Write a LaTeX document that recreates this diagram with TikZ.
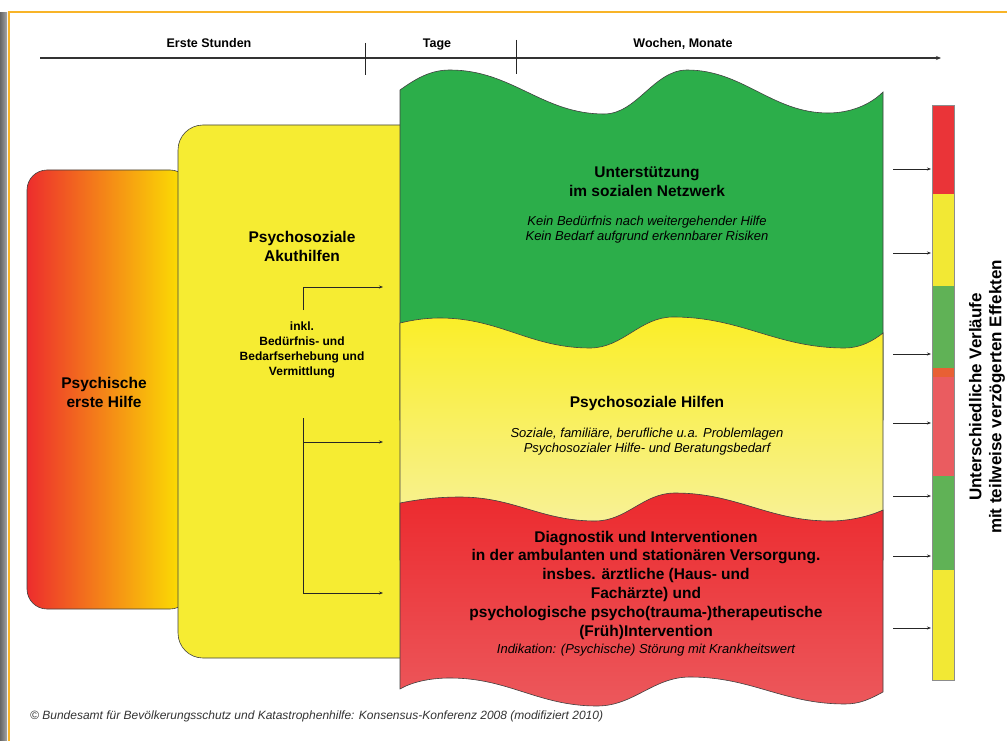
\documentclass[tikz,border=0pt]{standalone}
\usepackage{fontspec}
\setmainfont{Liberation Sans}
\usetikzlibrary{arrows.meta}
\definecolor{frameor}{RGB}{248,180,40}
\definecolor{gred}{RGB}{237,45,45}
\definecolor{gorange}{RGB}{245,140,35}
\definecolor{gyellow}{RGB}{252,232,0}
\definecolor{ybox}{RGB}{246,236,50}
\definecolor{mgreen}{RGB}{44,174,74}
\definecolor{myelT}{RGB}{250,238,40}
\definecolor{myelB}{RGB}{247,242,170}
\definecolor{mredT}{RGB}{236,42,46}
\definecolor{mredB}{RGB}{236,88,92}
\definecolor{bred}{RGB}{234,52,56}
\definecolor{byel}{RGB}{242,232,52}
\definecolor{bgreen}{RGB}{96,178,86}
\definecolor{borange}{RGB}{232,96,52}
\definecolor{bpink}{RGB}{234,92,96}
\begin{document}
\begin{tikzpicture}[x=1pt,y=-1pt,
  outl/.style={draw=black!75,line width=0.6pt},
  hdr/.style={font=\bfseries\fontsize{12.5}{14}\selectfont,inner sep=0pt,anchor=base},
  bigt/.style={font=\bfseries\fontsize{15.5}{19}\selectfont,align=center,inner sep=0pt},
  redt/.style={font=\bfseries\fontsize{15.5}{18.8}\selectfont,align=center,inner sep=0pt},
  itt/.style={font=\itshape\fontsize{13}{15}\selectfont,align=center,inner sep=0pt},
  smallb/.style={font=\bfseries\fontsize{12}{15}\selectfont,align=center,inner sep=0pt},
  conn/.style={draw=black!85,line width=0.7pt},
  arr/.style={conn,-{Stealth[length=4pt,width=3pt]}},
]
\useasboundingbox (0,0) rectangle (1007,741);
\fill[white] (0,0) rectangle (1007,741);
% frame
\shade[left color=black!60,right color=black!35] (0,13) rectangle (7,741);
\draw[frameor,line width=2.5pt] (9,741) -- (9,12) -- (1007,12);

% header
\node[hdr] (h1) at (209,48) {Erste Stunden};
\node[hdr] (h2) at (437,48) {Tage};
\node[hdr] (h3) at (683,48) {Wochen, Monate};
\coordinate (tl0) at (40,58);
\coordinate (tl1) at (941,58);
\draw[line width=1.3pt,draw=black!80,-{Stealth[length=5pt,width=4pt]}] (tl0) -- (tl1);
\coordinate (t1a) at (365,43);
\coordinate (t1b) at (365,75);
\coordinate (t2a) at (516,40);
\coordinate (t2b) at (516,74);
\draw[line width=0.8pt,black!85] (t1a) -- (t1b);
\draw[line width=0.8pt,black!85] (t2a) -- (t2b);

% left gradient box
\shadedraw[left color=gred,middle color=gorange,right color=gyellow,outl,rounded corners=20pt] (27,170) rectangle (190,609);
\node[bigt] (pe) at (104,392) {Psychische\\erste Hilfe};

% yellow box
\filldraw[fill=ybox,outl,rounded corners=25pt] (178,125) rectangle (430,658);
\node[bigt] (pa) at (302,246) {Psychosoziale\\Akuthilfen};
\node[smallb] (inkl) at (302,350) {inkl.\\Bedürfnis- und\\Bedarfserhebung und\\Vermittlung};

% middle stack: green
\filldraw[fill=mgreen,outl]
 (400,90) .. controls (418,77) and (432,70) .. (450,70)
 .. controls (512,70) and (542,114) .. (604,114)
 .. controls (637,114) and (654,70) .. (687,70)
 .. controls (743,70) and (772,113) .. (828,113)
 .. controls (850,113) and (870,105) .. (883,92)
 -- (883,420) -- (400,420) -- cycle;
% yellow
\shadedraw[top color=myelT,bottom color=myelB,outl]
 (400,323) .. controls (413,320) and (425,318) .. (440,318)
 .. controls (500,318) and (530,348) .. (590,348)
 .. controls (623,348) and (640,317) .. (673,317)
 .. controls (742,317) and (776,348) .. (845,348)
 .. controls (860,348) and (873,341) .. (883,333)
 -- (883,560) -- (400,560) -- cycle;
% red
\shadedraw[top color=mredT,bottom color=mredB,outl]
 (400,503) .. controls (420,499) and (440,497) .. (460,497)
 .. controls (514,497) and (541,521) .. (595,521)
 .. controls (627,521) and (643,493) .. (675,493)
 .. controls (737,493) and (768,521) .. (830,521)
 .. controls (850,521) and (870,516) .. (883,510)
 -- (883,692)
 .. controls (870,699) and (860,704) .. (845,704)
 .. controls (783,704) and (752,677) .. (690,677)
 .. controls (653,677) and (634,706) .. (597,706)
 .. controls (538,706) and (509,678) .. (450,678)
 .. controls (430,678) and (412,682) .. (400,689)
 -- cycle;

% texts in stack
\node[bigt] (g1) at (647,182) {Unterstützung\\im sozialen Netzwerk};
\node[itt] (g2) at (647,230) {Kein Bedürfnis nach weitergehender Hilfe\\Kein Bedarf aufgrund erkennbarer Risiken};
\node[bigt] (y1) at (647,403) {Psychosoziale Hilfen};
\node[itt] (y2) at (647,442) {Soziale, familiäre, berufliche u.a. Problemlagen\\Psychosozialer Hilfe- und Beratungsbedarf};
\node[redt] (r1) at (646,585) {Diagnostik und Interventionen\\in der ambulanten und stationären Versorgung.\\insbes. ärztliche (Haus- und\\Fachärzte) und\\psychologische psycho(trauma-)therapeutische\\(Früh)Intervention};
\node[itt] (r2) at (646,650) {Indikation: (Psychische) Störung mit Krankheitswert};

% bracket arrows
\coordinate (b1) at (303,287);
\coordinate (b1t) at (303,310);
\coordinate (e1) at (383,287);
\coordinate (b2) at (303,418);
\coordinate (b2m) at (303,442);
\coordinate (b2b) at (303,593);
\coordinate (e2) at (383,442);
\coordinate (e3) at (383,593);
\draw[conn] (b1t) -- (b1);
\draw[arr] (b1) -- (e1);
\draw[conn] (b2) -- (b2b);
\draw[arr] (b2m) -- (e2);
\draw[arr] (b2b) -- (e3);

% right bar
\fill[bred] (932,105) rectangle (954,194);
\fill[byel] (932,194) rectangle (954,286);
\fill[bgreen] (932,286) rectangle (954,368);
\fill[borange] (932,368) rectangle (954,377);
\fill[bpink] (932,377) rectangle (954,476);
\fill[bgreen] (932,476) rectangle (954,570);
\fill[byel] (932,570) rectangle (954,680);
\draw[black!45,line width=0.5pt] (932,105) rectangle (954,680);
\foreach \yy [count=\i] in {169,253,354,423,496,556,628}{
  \coordinate (as\i) at (893,\yy);
  \coordinate (ae\i) at (931,\yy);
  \draw[arr,line width=0.6pt] (as\i) -- (ae\i);
}
\node[rotate=90,font=\bfseries\fontsize{17}{20}\selectfont,align=center,inner sep=0pt] (rt) at (987,397) {Unterschiedliche Verläufe\\mit teilweise verzögerten Effekten};

% copyright
\node[anchor=west,font=\itshape\fontsize{12}{14}\selectfont,text=black!80,inner sep=0pt] (cp) at (30,716) {© Bundesamt für Bevölkerungsschutz und Katastrophenhilfe: Konsensus-Konferenz 2008 (modifiziert 2010)};
\end{tikzpicture}
\end{document}
